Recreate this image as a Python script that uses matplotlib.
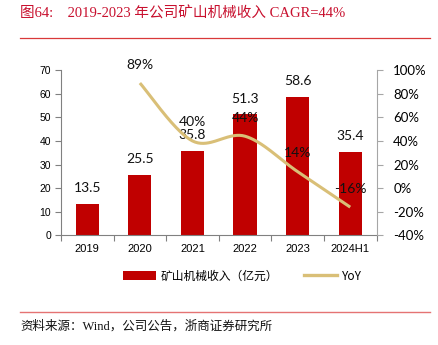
import numpy as np
import matplotlib
matplotlib.use("Agg")
import matplotlib.pyplot as plt
from matplotlib.patches import Patch
from matplotlib.lines import Line2D

categories = ["2019", "2020", "2021", "2022", "2023", "2024H1"]
revenue = [13.5, 25.5, 35.8, 51.3, 58.6, 35.4]
yoy_labels = ["2020", "2021", "2022", "2023", "2024H1"]
yoy = [89, 40, 44, 14, -16]

BAR_RED = "#C00000"
LINE_TAN = "#D9BF77"
TITLE_RED = "#C8102E"
CJK = ["Noto Sans CJK SC", "DejaVu Sans"]
SERIF_CJK = ["Liberation Serif", "Noto Sans CJK SC"]
NUM = ["Lato", "DejaVu Sans"]

fig = plt.figure(figsize=(4.38, 3.45), dpi=100)
ax = fig.add_axes([0.1393, 0.3174, 0.7203, 0.4796])
ax2 = ax.twinx()
# line axes above the bar axes
ax.set_zorder(1)
ax2.set_zorder(2)
ax2.patch.set_visible(False)

x = np.arange(len(categories))
ax.bar(x, revenue, width=0.44, color=BAR_RED, zorder=2)
ax.set_xlim(-0.5, len(categories) - 0.5)
ax.set_ylim(0, 70)
ax.set_yticks(np.arange(0, 71, 10))
ax.set_xticks(x)
ax.set_xticklabels(categories, fontsize=8, family="Liberation Sans")
ax.set_xticks(np.arange(-0.5, len(categories), 1), minor=True)
ax.tick_params(axis="x", which="major", length=0, pad=6)
ax.tick_params(axis="x", which="minor", length=4, width=0.8, color="#808080", direction="out")
ax.tick_params(axis="y", length=4, width=0.8, color="#808080", labelsize=7.5, pad=3)
for lab in ax.get_yticklabels():
    lab.set_family("Liberation Sans")

for v, xi in zip(revenue, x):
    ax.annotate(f"{v:.1f}", (xi, v), xytext=(0, 7), textcoords="offset points",
                ha="center", va="bottom", fontsize=10, family=NUM, color="#111111")

for a in (ax, ax2):
    a.spines["top"].set_visible(False)
for s in ["left", "bottom"]:
    ax.spines[s].set_color("#808080")
    ax.spines[s].set_linewidth(0.8)
ax.spines["right"].set_visible(False)
ax2.spines["left"].set_visible(False)
ax2.spines["bottom"].set_visible(False)
ax2.spines["right"].set_color("#A6A6A6")
ax2.spines["right"].set_linewidth(0.8)

# YoY on the secondary axis, drawn as a smoothed (Catmull-Rom) curve
ax2.set_ylim(-40, 100)
ax2.set_yticks(np.arange(-40, 101, 20))
ax2.set_yticklabels([f"{t}%" for t in range(-40, 101, 20)], fontsize=9.5, family=NUM)
ax2.tick_params(axis="y", length=4, width=0.8, color="#A6A6A6", pad=8)

px = np.array([categories.index(c) for c in yoy_labels], dtype=float)
py = np.array(yoy, dtype=float)
ys = 0.0227  # y-units to x-units ratio on screen
P = np.column_stack([px, py * ys])
Pp = np.vstack([P[0], P, P[-1]])
curve = []
t = np.linspace(0, 1, 40)
for i in range(len(P) - 1):
    p0, p1, p2, p3 = Pp[i], Pp[i + 1], Pp[i + 2], Pp[i + 3]
    c1 = p1 + (p2 - p0) / 6
    c2 = p2 - (p3 - p1) / 6
    seg = ((1 - t) ** 3)[:, None] * p1 + (3 * (1 - t) ** 2 * t)[:, None] * c1 \
        + (3 * (1 - t) * t ** 2)[:, None] * c2 + (t ** 3)[:, None] * p2
    curve.append(seg if i == 0 else seg[1:])
curve = np.vstack(curve)
ax2.plot(curve[:, 0], curve[:, 1] / ys, color=LINE_TAN, lw=2.2, solid_capstyle="butt", zorder=3)

for xi, v in zip(px, py):
    ax2.annotate(f"{int(v)}%", (xi, v), xytext=(0, 9), textcoords="offset points",
                 ha="center", va="bottom", fontsize=10, family=NUM, color="#111111")

handles = [Patch(facecolor=BAR_RED, edgecolor="none"),
           Line2D([0], [0], color=LINE_TAN, lw=2.4)]
fig.legend(handles, ["矿山机械收入（亿元）", "YoY"], loc="center",
           bbox_to_anchor=(0.553, 0.2), ncol=2, frameon=False,
           prop={"family": CJK, "size": 8.5}, handlelength=2.8,
           handleheight=0.8, columnspacing=2.2, handletextpad=0.4)

fig.text(0.046, 0.962, "图64:    2019-2023 年公司矿山机械收入 CAGR=44%",
         color=TITLE_RED, fontsize=10.5, family=SERIF_CJK, va="center", ha="left")
fig.add_artist(Line2D([0.046, 0.982], [0.89, 0.89], color="#D9383A", lw=0.9))
fig.add_artist(Line2D([0.046, 0.982], [0.096, 0.096], color="#E57373", lw=1.0))
fig.text(0.046, 0.055, "资料来源：Wind，公司公告，浙商证券研究所",
         color="#111111", fontsize=9, family=SERIF_CJK, va="center", ha="left")

fig.savefig("out.png", dpi=100)
